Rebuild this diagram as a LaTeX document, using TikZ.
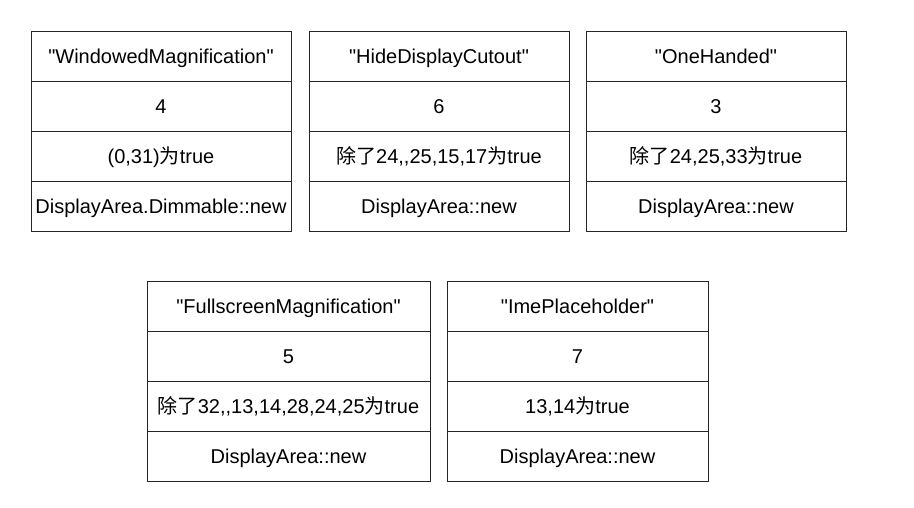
\documentclass[tikz,border=0pt]{standalone}
\usepackage{fontspec}
\setmainfont{Liberation Sans}[Ligatures=TeXOff]
\newfontfamily\cjk{Noto Sans CJK SC}
\begin{document}
\begin{tikzpicture}[x=1pt,y=-1pt,
  cell/.style={draw=black!85, line width=1pt, rectangle, anchor=north west,
    minimum height=50pt, inner sep=0pt, text height=14.3pt, text depth=0pt,
    font=\fontsize{20}{22}\selectfont}]
\useasboundingbox (0,0) rectangle (914,507);
% WindowedMagnification
\node[cell, minimum width=260pt] (w1) at (30.5,30.5) {"WindowedMagnification"};
\node[cell, minimum width=260pt] (w2) at (30.5,80.5) {4};
\node[cell, minimum width=260pt] (w3) at (30.5,130.5) {(0,31){\cjk 为}true};
\node[cell, minimum width=260pt] (w4) at (30.5,180.5) {DisplayArea.Dimmable::new};
% HideDisplayCutout
\node[cell, minimum width=260pt] (h1) at (308.5,30.5) {"HideDisplayCutout"};
\node[cell, minimum width=260pt] (h2) at (308.5,80.5) {6};
\node[cell, minimum width=260pt] (h3) at (308.5,130.5) {{\cjk 除了}24,,25,15,17{\cjk 为}true};
\node[cell, minimum width=260pt] (h4) at (308.5,180.5) {DisplayArea::new};
% OneHanded
\node[cell, minimum width=260pt] (o1) at (585.5,30.5) {"OneHanded"};
\node[cell, minimum width=260pt] (o2) at (585.5,80.5) {3};
\node[cell, minimum width=260pt] (o3) at (585.5,130.5) {{\cjk 除了}24,25,33{\cjk 为}true};
\node[cell, minimum width=260pt] (o4) at (585.5,180.5) {DisplayArea::new};
% FullscreenMagnification
\node[cell, minimum width=283pt] (f1) at (146.5,280.5) {"FullscreenMagnification"};
\node[cell, minimum width=283pt] (f2) at (146.5,330.5) {5};
\node[cell, minimum width=283pt] (f3) at (146.5,380.5) {{\cjk 除了}32,,13,14,28,24,25{\cjk 为}true};
\node[cell, minimum width=283pt] (f4) at (146.5,430.5) {DisplayArea::new};
% ImePlaceholder
\node[cell, minimum width=261pt] (i1) at (446.5,280.5) {"ImePlaceholder"};
\node[cell, minimum width=261pt] (i2) at (446.5,330.5) {7};
\node[cell, minimum width=261pt] (i3) at (446.5,380.5) {13,14{\cjk 为}true};
\node[cell, minimum width=261pt] (i4) at (446.5,430.5) {DisplayArea::new};
\end{tikzpicture}
\end{document}
